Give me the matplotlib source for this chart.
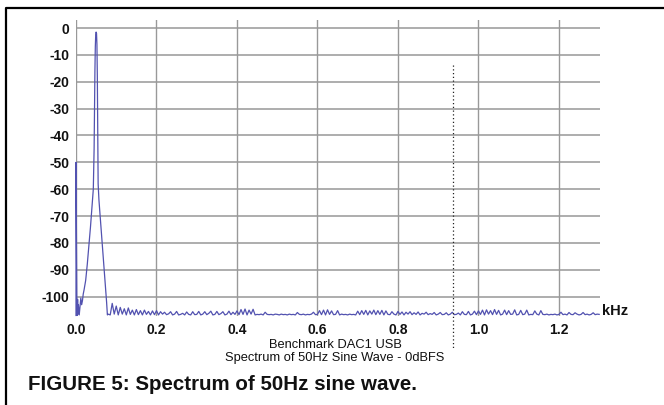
import numpy as np
import matplotlib
matplotlib.use("Agg")
import matplotlib.pyplot as plt
from matplotlib.lines import Line2D

plt.rcParams['font.family'] = ['Liberation Sans', 'DejaVu Sans']

# ---- data (kHz, dBFS) ----
peak_freq = [0.000, 0.000, 0.001, 0.002, 0.003, 0.004, 0.005, 0.006, 0.008, 0.010,
             0.012, 0.014, 0.016, 0.018, 0.020, 0.024, 0.028, 0.032, 0.036, 0.040,
             0.043, 0.045, 0.046, 0.047, 0.048, 0.049, 0.050, 0.051, 0.052, 0.053,
             0.054, 0.055, 0.057, 0.060, 0.064, 0.068, 0.072, 0.076, 0.078, 0.080]
peak_db = [-107.0, -50.0, -75.0, -100.0, -107.0, -101.0, -106.5, -103.0, -106.8, -103.5,
           -100.5, -103.0, -101.5, -99.0, -97.5, -94.0, -88.0, -81.0, -74.0, -66.0,
           -60.0, -45.0, -30.0, -16.0, -7.0, -2.5, -1.5, -2.0, -6.0, -18.0,
           -40.0, -58.0, -64.0, -70.0, -78.0, -86.0, -94.0, -102.0, -106.8, -106.5]

noise_start = 0.085
noise_step = 0.005
noise_db = [
    -106.8, -102.5, -106.5,
    -103.5, -106.8, -104.0, -106.5, -104.5, -106.8, -104.2, -106.6, -105.0, -106.8,
    -104.8, -106.7, -105.2, -106.8, -105.0, -106.6, -105.5, -106.8, -105.3, -106.7,
    -105.2, -106.8, -105.6, -106.5, -105.8, -106.7, -106.4, -105.6, -106.8, -106.5,
    -105.5, -106.8, -106.6, -106.2, -106.8, -105.7, -106.6, -106.8, -105.6, -106.7,
    -106.6, -105.5, -106.8, -106.5, -105.6, -106.7, -106.2, -105.4, -106.8, -106.6,
    -105.5, -106.7, -106.3, -105.6, -106.8, -106.5, -105.4, -106.7, -105.8, -106.6,
    -105.3, -106.7, -104.8, -106.6, -104.6, -106.8, -105.0, -106.5, -104.7, -106.8,
    -106.6, -106.7, -106.5, -106.8, -105.8, -106.6, -106.7, -106.6, -106.8, -106.5,
    -106.6, -106.8, -106.5, -106.7, -106.6, -106.8, -106.5, -106.7, -106.6, -106.8,
    -105.9, -106.6, -106.7, -106.5, -106.8, -106.6, -106.7, -106.5, -105.8, -106.7,
    -106.6, -105.2, -106.7, -105.0, -106.8, -104.9, -106.6, -105.3, -106.7, -106.6,
    -105.2, -106.8, -106.5, -106.7, -106.6, -106.8, -106.5, -106.7, -106.6, -106.8,
    -105.4, -106.7, -105.2, -106.6, -105.1, -106.8, -105.3, -106.5, -105.0, -106.7,
    -105.2, -106.6, -105.1, -106.8, -105.3, -106.6, -106.7, -105.6, -106.5, -106.8,
    -105.5, -106.6, -105.7, -106.8, -105.8, -106.5, -105.6, -106.7, -106.0, -106.6,
    -105.7, -106.8, -106.2, -106.5, -105.8, -106.7, -106.3, -106.6, -105.9, -106.8,
    -106.5, -105.9, -106.7, -106.6, -106.0, -106.8, -106.5, -105.8, -106.7, -106.6,
    -106.1, -106.8, -105.6, -106.6, -106.7, -105.5, -106.8, -106.5, -105.4, -106.7,
    -105.3, -106.6, -105.0, -106.8, -104.9, -106.5, -105.2, -106.7, -104.8, -106.6,
    -105.1, -106.8, -106.5, -105.0, -106.7, -105.2, -106.6, -106.5, -104.9, -106.8,
    -106.6, -105.1, -106.7, -106.5, -105.0, -106.8, -106.6, -106.7, -105.3, -106.5,
    -106.8, -105.2, -106.6, -106.7, -106.5, -106.8, -106.6, -106.7, -106.5, -106.8,
    -106.6, -105.8, -106.7, -106.5, -106.8, -105.9, -106.6, -106.7, -106.0, -106.5,
    -106.8, -106.6, -105.9, -106.7, -106.5, -106.8, -106.6, -106.0, -106.7, -106.5,
    -106.6,
]

y_ticks = [0, -10, -20, -30, -40, -50, -60, -70, -80, -90, -100]
x_ticks = [0.0, 0.2, 0.4, 0.6, 0.8, 1.0, 1.2]
x_tick_labels = ["0.0", "0.2", "0.4", "0.6", "0.8", "1.0", "1.2"]

title_line1 = "Benchmark DAC1 USB"
title_line2 = "Spectrum of 50Hz Sine Wave - 0dBFS"
caption = "FIGURE 5: Spectrum of 50Hz sine wave."
unit_label = "kHz"

# ---- build trace ----
noise_freq = np.round(noise_start + noise_step * np.arange(len(noise_db)), 4)
freq = np.concatenate([peak_freq, noise_freq])
db = np.concatenate([peak_db, noise_db])

W, H = 664, 405
fig = plt.figure(figsize=(W / 100, H / 100), dpi=100)
fig.patch.set_facecolor("white")

# axes box in pixels: left 76, right 600, top 20, bottom 316
ax = fig.add_axes([76 / W, 1 - 316 / H, 524 / W, 296 / H])
ax.set_xlim(0, 1.302)
ax.set_ylim(-107.2, 3)

for yv in y_ticks:
    ax.axhline(yv, color="#adadad", lw=1.4, zorder=1)
for xv in x_ticks:
    ax.axvline(xv, color="#999999", lw=1.0, zorder=1)

ax.plot(freq, db, color="#5252b0", lw=0.9, zorder=3, clip_on=False)

for s in ax.spines.values():
    s.set_visible(False)
ax.set_yticks(y_ticks)
ax.set_yticklabels([str(v) for v in y_ticks])
ax.set_xticks(x_ticks)
ax.set_xticklabels(x_tick_labels)
ax.tick_params(axis="both", length=0, labelsize=10)
ax.tick_params(axis="y", pad=5)
ax.tick_params(axis="x", pad=5)
for lab in ax.get_xticklabels() + ax.get_yticklabels():
    lab.set_fontweight("bold")
    lab.set_color("#111111")

def px(x, y):
    return x / W, 1 - y / H

fig.text(*px(602, 311), unit_label, fontsize=10.5, fontweight="bold",
         ha="left", va="center", color="#111111")
fig.text(*px(335, 345), title_line1, fontsize=9.3, ha="center", va="center",
         color="#111111")
fig.text(*px(335, 358), title_line2, fontsize=9.3, ha="center", va="center",
         color="#111111")
fig.text(*px(28, 385), caption, fontsize=14.8, fontweight="bold",
         ha="left", va="center", color="#111111")

# dotted column-guide line
fig.add_artist(Line2D([453 / W, 453 / W], [1 - 65 / H, 1 - 350 / H],
                      transform=fig.transFigure, color="#222222", lw=0.9,
                      linestyle=(0, (1, 2))))
# frame (left and top edges)
fig.add_artist(Line2D([6 / W, 6 / W, 1.0], [0.0, 1 - 7.5 / H, 1 - 7.5 / H],
                      transform=fig.transFigure, color="black", lw=1.6))

fig.savefig("out.png", dpi=100)
